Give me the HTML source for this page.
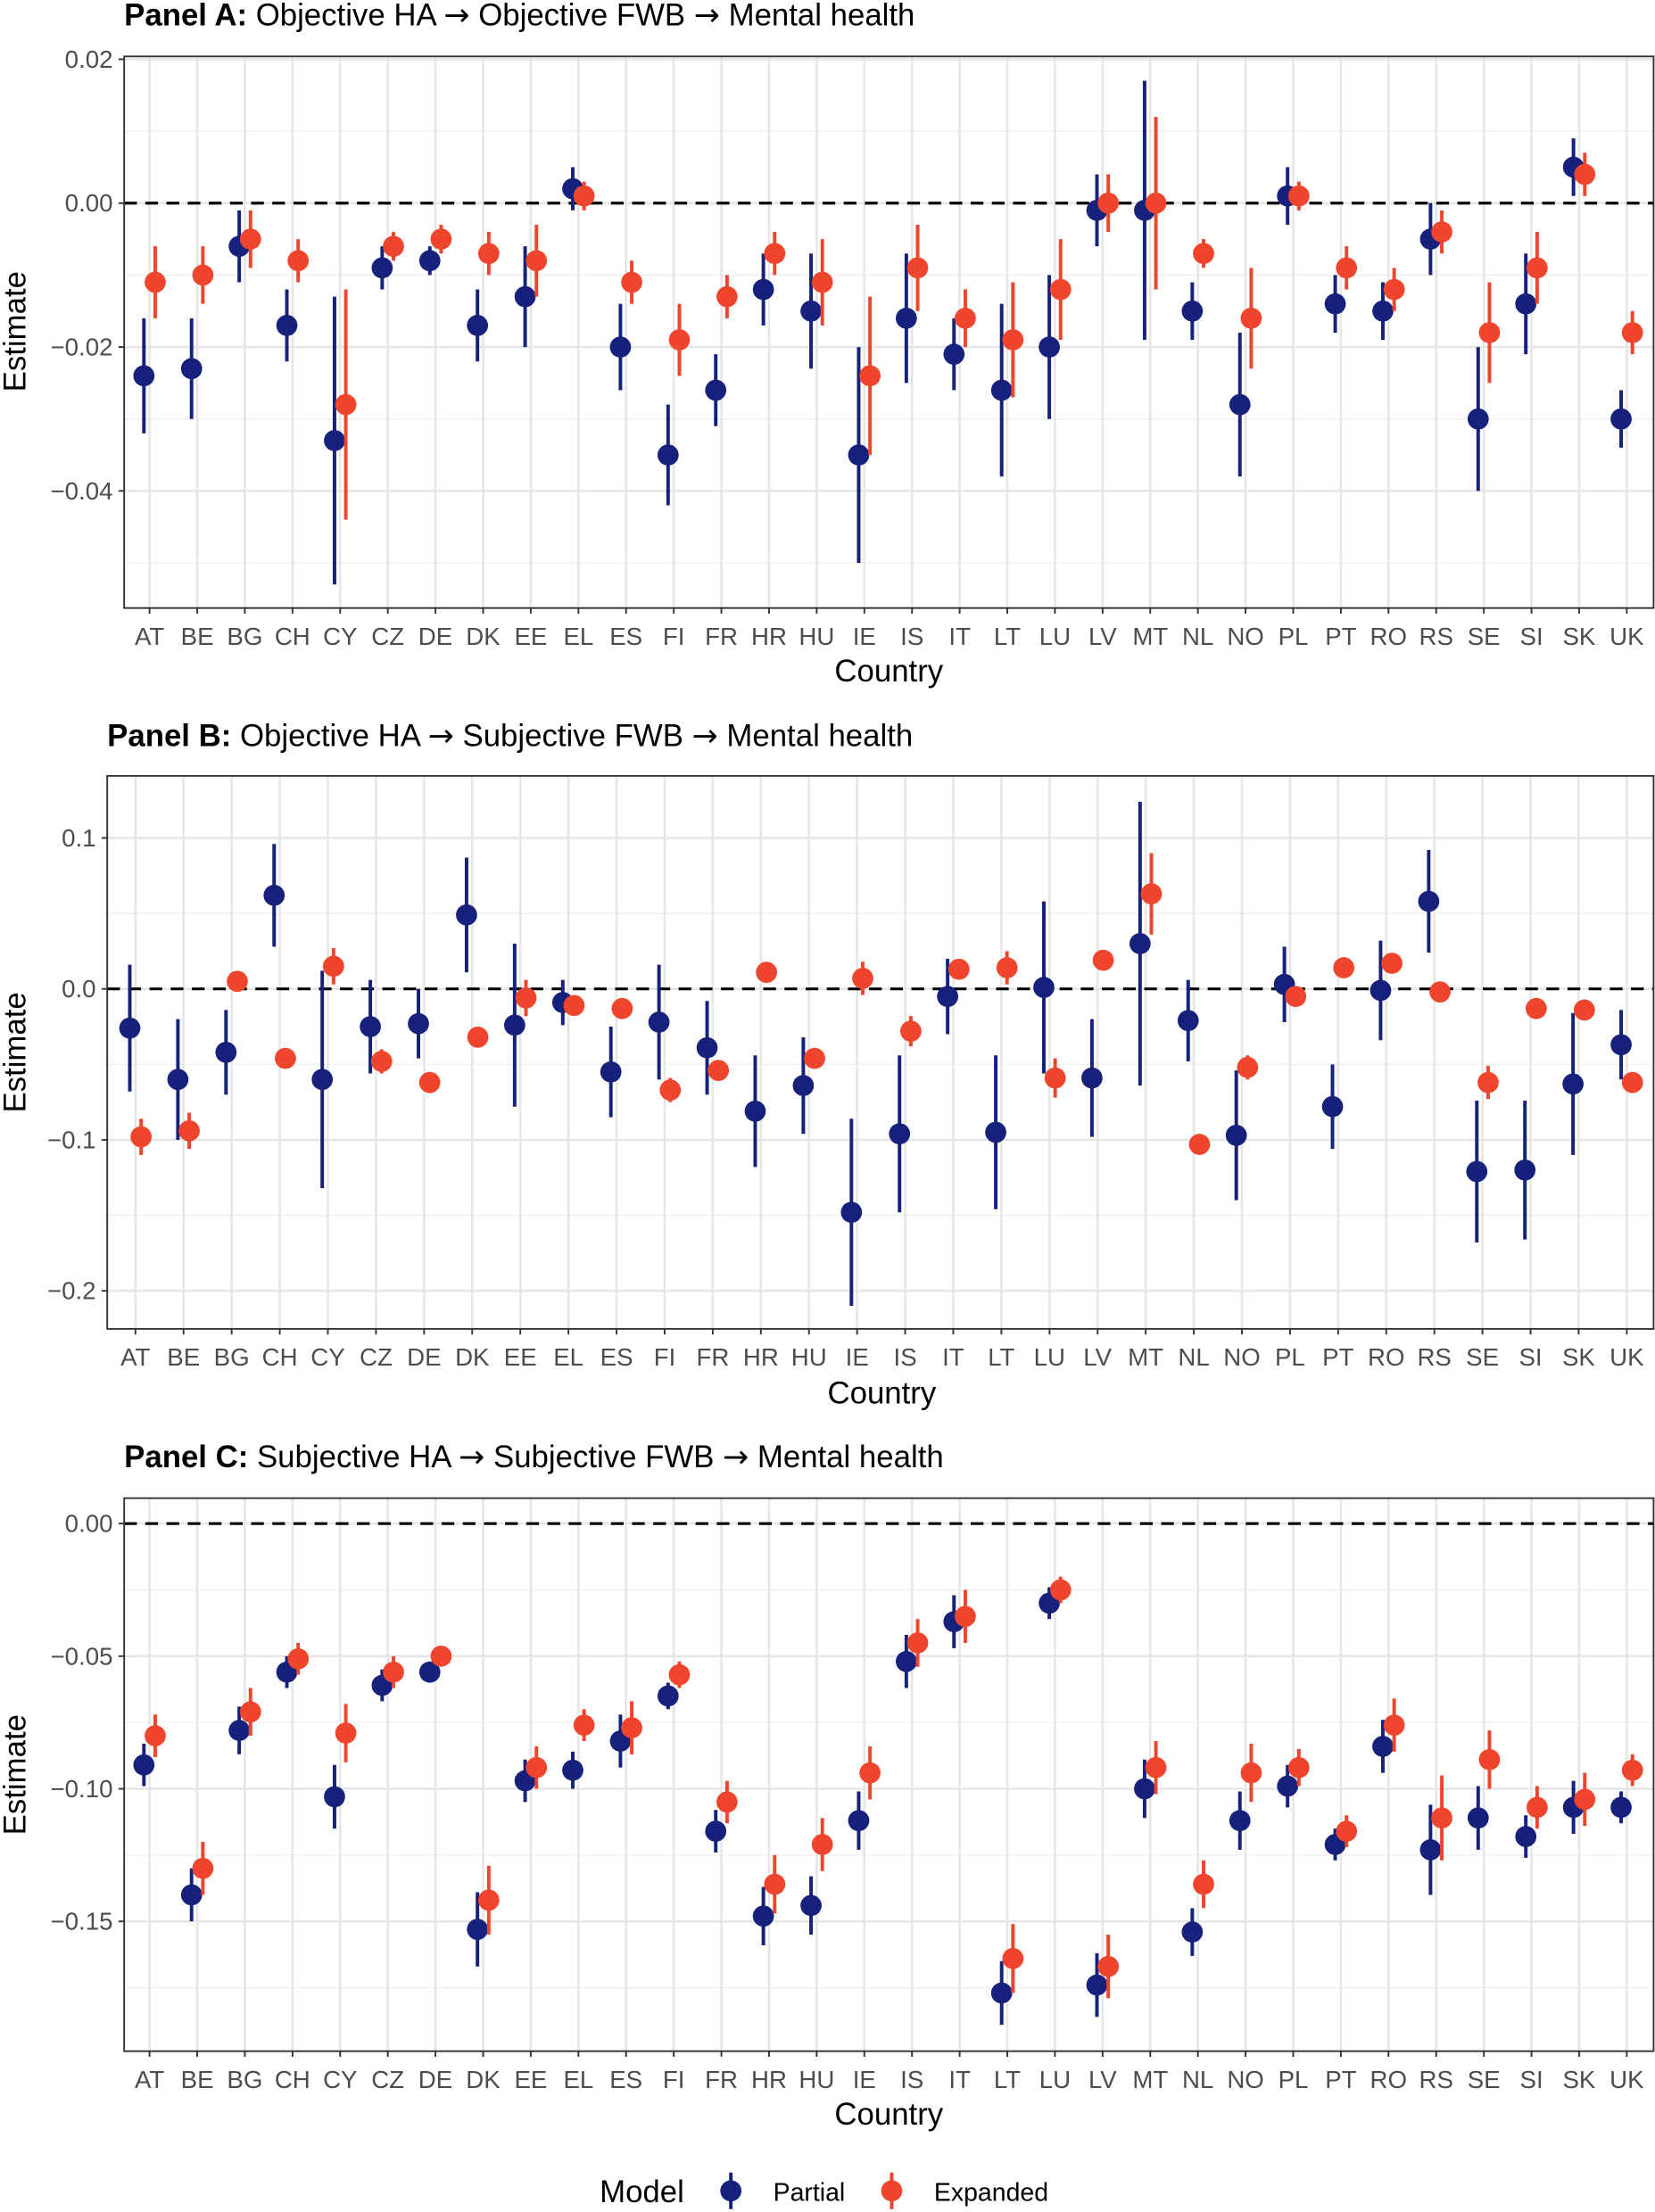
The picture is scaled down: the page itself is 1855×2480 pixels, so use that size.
<!DOCTYPE html>
<html><head><meta charset="utf-8"><style>
html,body{margin:0;padding:0;background:#fff;}
svg{display:block;}
text{font-family:"Liberation Sans",sans-serif;}
.tk{font-size:17.5px;fill:#4d4d4d;}
.ax{font-size:22px;fill:#000;}
.tt{font-size:22px;fill:#000;}
.ar{font-family:"DejaVu Sans",sans-serif;font-size:22px;}
</style></head><body>
<svg id="s" width="1855" height="2480" viewBox="0 0 1173 1568" preserveAspectRatio="none" xmlns="http://www.w3.org/2000/svg">
<rect width="1173" height="1568" fill="#fff"/>
<g id="grid"></g>
<g id="pts"></g>
<text class="tt" x="88" y="18"><tspan font-weight="bold">Panel A:</tspan>  Objective HA <tspan class="ar">→</tspan> Objective FWB <tspan class="ar">→</tspan> Mental health</text>
<text class="tt" x="76" y="529"><tspan font-weight="bold">Panel B:</tspan>  Objective HA <tspan class="ar">→</tspan> Subjective FWB <tspan class="ar">→</tspan> Mental health</text>
<text class="tt" x="88" y="1040"><tspan font-weight="bold">Panel C:</tspan>  Subjective HA <tspan class="ar">→</tspan> Subjective FWB <tspan class="ar">→</tspan> Mental health</text>
<g class="tk" text-anchor="end">
<text x="80" y="48">0.02</text><text x="80" y="150">0.00</text><text x="80" y="252">−0.02</text><text x="80" y="354">−0.04</text>
<text x="68" y="600">0.1</text><text x="68" y="707">0.0</text><text x="68" y="814">−0.1</text><text x="68" y="921">−0.2</text>
<text x="80" y="1086">0.00</text><text x="80" y="1180">−0.05</text><text x="80" y="1274">−0.10</text><text x="80" y="1368">−0.15</text>
</g>
<text class="ax" transform="translate(18,235) rotate(-90)" text-anchor="middle">Estimate</text>
<text class="ax" transform="translate(18,746) rotate(-90)" text-anchor="middle">Estimate</text>
<text class="ax" transform="translate(18,1258) rotate(-90)" text-anchor="middle">Estimate</text>
<text class="ax" x="630" y="483" text-anchor="middle">Country</text>
<text class="ax" x="625" y="995" text-anchor="middle">Country</text>
<text class="ax" x="630" y="1506" text-anchor="middle">Country</text>
<g class="tk" text-anchor="middle">
<text x="106" y="457">AT</text><text x="139.8" y="457">BE</text><text x="173.5" y="457">BG</text><text x="207.3" y="457">CH</text><text x="241.1" y="457">CY</text><text x="274.9" y="457">CZ</text><text x="308.6" y="457">DE</text><text x="342.4" y="457">DK</text><text x="376.2" y="457">EE</text><text x="410" y="457">EL</text><text x="443.7" y="457">ES</text><text x="477.5" y="457">FI</text><text x="511.3" y="457">FR</text><text x="545.1" y="457">HR</text><text x="578.8" y="457">HU</text><text x="612.6" y="457">IE</text><text x="646.4" y="457">IS</text><text x="680.2" y="457">IT</text><text x="713.9" y="457">LT</text><text x="747.7" y="457">LU</text><text x="781.5" y="457">LV</text><text x="815.3" y="457">MT</text><text x="849" y="457">NL</text><text x="882.8" y="457">NO</text><text x="916.6" y="457">PL</text><text x="950.4" y="457">PT</text><text x="984.1" y="457">RO</text><text x="1017.9" y="457">RS</text><text x="1051.7" y="457">SE</text><text x="1085.5" y="457">SI</text><text x="1119.2" y="457">SK</text><text x="1153" y="457">UK</text>
</g>
<g class="tk" text-anchor="middle">
<text x="96" y="968">AT</text><text x="130.1" y="968">BE</text><text x="164.2" y="968">BG</text><text x="198.3" y="968">CH</text><text x="232.4" y="968">CY</text><text x="266.5" y="968">CZ</text><text x="300.6" y="968">DE</text><text x="334.7" y="968">DK</text><text x="368.8" y="968">EE</text><text x="402.9" y="968">EL</text><text x="437" y="968">ES</text><text x="471.1" y="968">FI</text><text x="505.2" y="968">FR</text><text x="539.3" y="968">HR</text><text x="573.4" y="968">HU</text><text x="607.5" y="968">IE</text><text x="641.6" y="968">IS</text><text x="675.6" y="968">IT</text><text x="709.7" y="968">LT</text><text x="743.8" y="968">LU</text><text x="777.9" y="968">LV</text><text x="812" y="968">MT</text><text x="846.1" y="968">NL</text><text x="880.2" y="968">NO</text><text x="914.3" y="968">PL</text><text x="948.4" y="968">PT</text><text x="982.5" y="968">RO</text><text x="1016.6" y="968">RS</text><text x="1050.7" y="968">SE</text><text x="1084.8" y="968">SI</text><text x="1118.9" y="968">SK</text><text x="1153" y="968">UK</text>
</g>
<g class="tk" text-anchor="middle">
<text x="106" y="1480">AT</text><text x="139.8" y="1480">BE</text><text x="173.5" y="1480">BG</text><text x="207.3" y="1480">CH</text><text x="241.1" y="1480">CY</text><text x="274.9" y="1480">CZ</text><text x="308.6" y="1480">DE</text><text x="342.4" y="1480">DK</text><text x="376.2" y="1480">EE</text><text x="410" y="1480">EL</text><text x="443.7" y="1480">ES</text><text x="477.5" y="1480">FI</text><text x="511.3" y="1480">FR</text><text x="545.1" y="1480">HR</text><text x="578.8" y="1480">HU</text><text x="612.6" y="1480">IE</text><text x="646.4" y="1480">IS</text><text x="680.2" y="1480">IT</text><text x="713.9" y="1480">LT</text><text x="747.7" y="1480">LU</text><text x="781.5" y="1480">LV</text><text x="815.3" y="1480">MT</text><text x="849" y="1480">NL</text><text x="882.8" y="1480">NO</text><text x="916.6" y="1480">PL</text><text x="950.4" y="1480">PT</text><text x="984.1" y="1480">RO</text><text x="1017.9" y="1480">RS</text><text x="1051.7" y="1480">SE</text><text x="1085.5" y="1480">SI</text><text x="1119.2" y="1480">SK</text><text x="1153" y="1480">UK</text>
</g>
<text class="ax" x="425" y="1561">Model</text>
<line x1="518" y1="1540" x2="518" y2="1566" stroke="#16217c" stroke-width="2.5"/>
<circle cx="518" cy="1553" r="7.5" fill="#16217c"/>
<text x="548" y="1560" style="font-size:18px">Partial</text>
<line x1="632" y1="1540" x2="632" y2="1566" stroke="#ef452c" stroke-width="2.5"/>
<circle cx="632" cy="1553" r="7.5" fill="#ef452c"/>
<text x="662" y="1560" style="font-size:18px">Expanded</text>
</svg>
<script>
var NS="http://www.w3.org/2000/svg";
function el(p,t,a){var e=document.createElementNS(NS,t);for(var k in a)e.setAttribute(k,a[k]);p.appendChild(e);return e;}
var G=document.getElementById('grid'),P=document.getElementById('pts');
var A=[[-0.024,-0.032,-0.016,-0.011,-0.016,-0.006],[-0.023,-0.030,-0.016,-0.010,-0.014,-0.006],[-0.006,-0.011,-0.001,-0.005,-0.009,-0.001],[-0.017,-0.022,-0.012,-0.008,-0.011,-0.005],[-0.033,-0.053,-0.013,-0.028,-0.044,-0.012],[-0.009,-0.012,-0.006,-0.006,-0.008,-0.004],[-0.008,-0.010,-0.006,-0.005,-0.007,-0.003],[-0.017,-0.022,-0.012,-0.007,-0.010,-0.004],[-0.013,-0.020,-0.006,-0.008,-0.013,-0.003],[0.002,-0.001,0.005,0.001,-0.001,0.003],[-0.020,-0.026,-0.014,-0.011,-0.014,-0.008],[-0.035,-0.042,-0.028,-0.019,-0.024,-0.014],[-0.026,-0.031,-0.021,-0.013,-0.016,-0.010],[-0.012,-0.017,-0.007,-0.007,-0.010,-0.004],[-0.015,-0.023,-0.007,-0.011,-0.017,-0.005],[-0.035,-0.050,-0.020,-0.024,-0.035,-0.013],[-0.016,-0.025,-0.007,-0.009,-0.015,-0.003],[-0.021,-0.026,-0.016,-0.016,-0.020,-0.012],[-0.026,-0.038,-0.014,-0.019,-0.027,-0.011],[-0.020,-0.030,-0.010,-0.012,-0.019,-0.005],[-0.001,-0.006,0.004,0.000,-0.004,0.004],[-0.001,-0.019,0.017,0.000,-0.012,0.012],[-0.015,-0.019,-0.011,-0.007,-0.009,-0.005],[-0.028,-0.038,-0.018,-0.016,-0.023,-0.009],[0.001,-0.003,0.005,0.001,-0.001,0.003],[-0.014,-0.018,-0.010,-0.009,-0.012,-0.006],[-0.015,-0.019,-0.011,-0.012,-0.015,-0.009],[-0.005,-0.010,0.000,-0.004,-0.007,-0.001],[-0.030,-0.040,-0.020,-0.018,-0.025,-0.011],[-0.014,-0.021,-0.007,-0.009,-0.014,-0.004],[0.005,0.001,0.009,0.004,0.001,0.007],[-0.030,-0.034,-0.026,-0.018,-0.021,-0.015]];
var B=[[-0.026,-0.068,0.016,-0.098,-0.110,-0.086],[-0.060,-0.100,-0.020,-0.094,-0.106,-0.082],[-0.042,-0.070,-0.014,0.005,0.000,0.010],[0.062,0.028,0.096,-0.046,-0.052,-0.040],[-0.060,-0.132,0.012,0.015,0.003,0.027],[-0.025,-0.056,0.006,-0.048,-0.056,-0.040],[-0.023,-0.046,0.000,-0.062,-0.066,-0.058],[0.049,0.011,0.087,-0.032,-0.038,-0.026],[-0.024,-0.078,0.030,-0.006,-0.018,0.006],[-0.009,-0.024,0.006,-0.011,-0.015,-0.007],[-0.055,-0.085,-0.025,-0.013,-0.020,-0.006],[-0.022,-0.060,0.016,-0.067,-0.075,-0.059],[-0.039,-0.070,-0.008,-0.054,-0.060,-0.048],[-0.081,-0.118,-0.044,0.011,0.007,0.015],[-0.064,-0.096,-0.032,-0.046,-0.052,-0.040],[-0.148,-0.210,-0.086,0.007,-0.004,0.018],[-0.096,-0.148,-0.044,-0.028,-0.038,-0.018],[-0.005,-0.030,0.020,0.013,0.008,0.018],[-0.095,-0.146,-0.044,0.014,0.003,0.025],[0.001,-0.056,0.058,-0.059,-0.072,-0.046],[-0.059,-0.098,-0.020,0.019,0.014,0.024],[0.030,-0.064,0.124,0.063,0.036,0.090],[-0.021,-0.048,0.006,-0.103,-0.108,-0.098],[-0.097,-0.140,-0.054,-0.052,-0.060,-0.044],[0.003,-0.022,0.028,-0.005,-0.010,0.000],[-0.078,-0.106,-0.050,0.014,0.009,0.019],[-0.001,-0.034,0.032,0.017,0.012,0.022],[0.058,0.024,0.092,-0.002,-0.005,0.001],[-0.121,-0.168,-0.074,-0.062,-0.073,-0.051],[-0.120,-0.166,-0.074,-0.013,-0.020,-0.006],[-0.063,-0.110,-0.016,-0.014,-0.018,-0.010],[-0.037,-0.060,-0.014,-0.062,-0.068,-0.056]];
var C=[[-0.091,-0.099,-0.083,-0.080,-0.088,-0.072],[-0.140,-0.150,-0.130,-0.130,-0.140,-0.120],[-0.078,-0.087,-0.069,-0.071,-0.080,-0.062],[-0.056,-0.062,-0.050,-0.051,-0.057,-0.045],[-0.103,-0.115,-0.091,-0.079,-0.090,-0.068],[-0.061,-0.067,-0.055,-0.056,-0.062,-0.050],[-0.056,-0.060,-0.052,-0.050,-0.053,-0.047],[-0.153,-0.167,-0.139,-0.142,-0.155,-0.129],[-0.097,-0.105,-0.089,-0.092,-0.100,-0.084],[-0.093,-0.100,-0.086,-0.076,-0.082,-0.070],[-0.082,-0.092,-0.072,-0.077,-0.087,-0.067],[-0.065,-0.070,-0.060,-0.057,-0.062,-0.052],[-0.116,-0.124,-0.108,-0.105,-0.113,-0.097],[-0.148,-0.159,-0.137,-0.136,-0.147,-0.125],[-0.144,-0.155,-0.133,-0.121,-0.131,-0.111],[-0.112,-0.123,-0.101,-0.094,-0.104,-0.084],[-0.052,-0.062,-0.042,-0.045,-0.054,-0.036],[-0.037,-0.047,-0.027,-0.035,-0.045,-0.025],[-0.177,-0.189,-0.165,-0.164,-0.177,-0.151],[-0.030,-0.036,-0.024,-0.025,-0.030,-0.020],[-0.174,-0.186,-0.162,-0.167,-0.179,-0.155],[-0.100,-0.111,-0.089,-0.092,-0.102,-0.082],[-0.154,-0.163,-0.145,-0.136,-0.145,-0.127],[-0.112,-0.123,-0.101,-0.094,-0.105,-0.083],[-0.099,-0.107,-0.091,-0.092,-0.099,-0.085],[-0.121,-0.127,-0.115,-0.116,-0.122,-0.110],[-0.084,-0.094,-0.074,-0.076,-0.086,-0.066],[-0.123,-0.140,-0.106,-0.111,-0.127,-0.095],[-0.111,-0.123,-0.099,-0.089,-0.100,-0.078],[-0.118,-0.126,-0.110,-0.107,-0.115,-0.099],[-0.107,-0.117,-0.097,-0.104,-0.114,-0.094],[-0.107,-0.113,-0.101,-0.093,-0.099,-0.087]];
function panel(d,L,R,T,Bt,y0,k,x0,dx,majors,minors){
  function Y(v){return y0-v*k;}
  minors.forEach(function(v){var y=Y(v);if(y>T&&y<Bt)el(G,'line',{x1:L,x2:R,y1:y,y2:y,stroke:'#f0f0f0','stroke-width':0.9});});
  majors.forEach(function(v){var y=Y(v);el(G,'line',{x1:L,x2:R,y1:y,y2:y,stroke:'#e6e6e6','stroke-width':1.6});el(G,'line',{x1:L-4,x2:L,y1:y,y2:y,stroke:'#333','stroke-width':1.2});});
  for(var i=0;i<32;i++){var x=x0+i*dx;el(G,'line',{x1:x,x2:x,y1:T,y2:Bt,stroke:'#e6e6e6','stroke-width':1.6});el(G,'line',{x1:x,x2:x,y1:Bt,y2:Bt+4,stroke:'#333','stroke-width':1.2});}
  el(G,'line',{x1:L,x2:R,y1:Y(0),y2:Y(0),stroke:'#000','stroke-width':2,'stroke-dasharray':'9,6'});
  el(G,'rect',{x:L,y:T,width:R-L,height:Bt-T,fill:'none',stroke:'#333','stroke-width':1.2});
  d.forEach(function(r,i){var x=x0+i*dx;
    [[r[0],r[1],r[2],x-4,'#16217c'],[r[3],r[4],r[5],x+4,'#ef452c']].forEach(function(s){
      el(P,'line',{x1:s[3],x2:s[3],y1:Y(s[1]),y2:Y(s[2]),stroke:s[4],'stroke-width':2.5});
      el(P,'circle',{cx:s[3],cy:Y(s[0]),r:7.5,fill:s[4]});
    });
  });
}
panel(A,88,1172,40,431,144,5100,106,33.774,[0.02,0,-0.02,-0.04],[0.01,-0.01,-0.03,-0.05]);
panel(B,76,1172,550,942,701,1070,96,34.097,[0.1,0,-0.1,-0.2],[0.05,-0.05,-0.15]);
panel(C,88,1172,1062,1454,1080,1880,106,33.774,[0,-0.05,-0.1,-0.15],[-0.025,-0.075,-0.125,-0.175]);
</script>
</body></html>
